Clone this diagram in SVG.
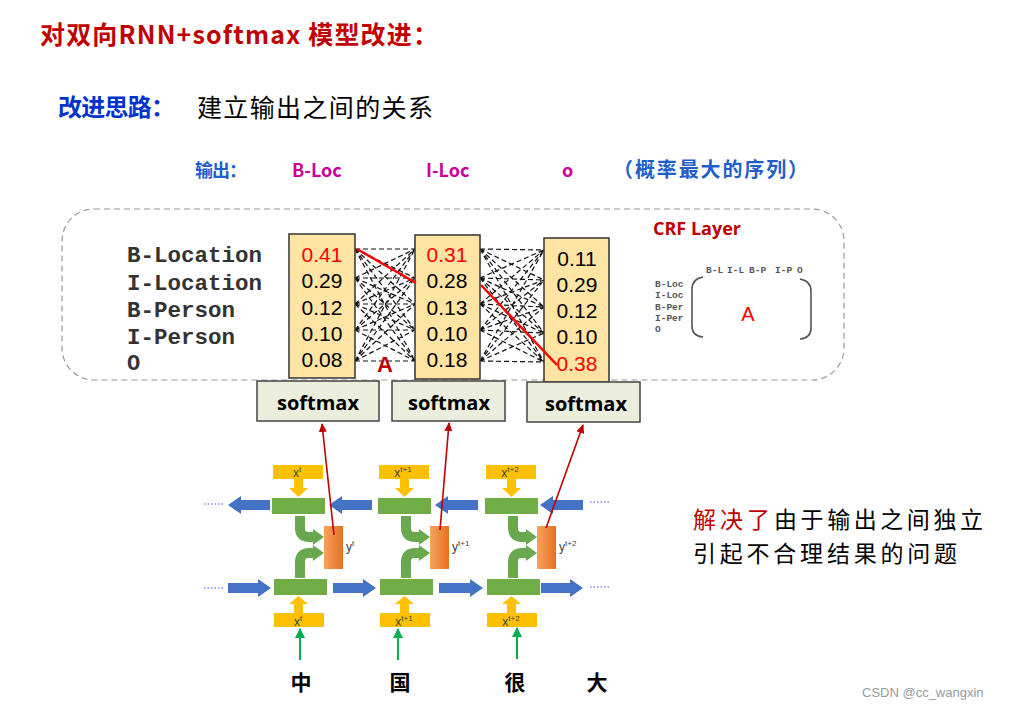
<svg xmlns="http://www.w3.org/2000/svg" width="1019" height="711" viewBox="0 0 1019 711">
<defs>
<style>
.cjk{font-family:"Noto Sans CJK SC","Noto Sans",sans-serif}
.mono{font-family:"Liberation Mono","DejaVu Sans Mono",monospace;font-weight:bold;fill:#333}
.num{font-family:"Liberation Sans",Arial,sans-serif;font-size:21px;fill:#000;text-anchor:middle}
.col{fill:#FFE4A3;stroke:#333;stroke-width:1.5}
.sm{fill:#EBEEDD;stroke:#444;stroke-width:1.5}
.smt{font-family:"Open Sans","Liberation Sans",sans-serif;font-weight:bold;font-size:20px;fill:#000;text-anchor:middle}
.xb{fill:#FFC000}
.gb{fill:#70AD47}
.xl{font-family:"Liberation Sans",Arial,sans-serif;font-size:12px;fill:#404040;text-anchor:middle}
.yl{font-family:"Liberation Sans",Arial,sans-serif;font-size:12px;fill:#404040}
.blue{fill:#4472C4}
.dash{fill:none;stroke:#111;stroke-width:1.2;stroke-dasharray:5 3}
.red{stroke:#FF0000;stroke-width:2.5;fill:none}
.rarr{stroke:#C00000;stroke-width:1.6;fill:none;marker-end:url(#rh)}
.garr{stroke:#00B050;stroke-width:2;fill:none;marker-end:url(#gh)}
.curve{stroke:#6AA84F;stroke-width:10;fill:none}
.dots{stroke:#4A4AFF;stroke-width:1.2;stroke-dasharray:1.5 2}
</style>
<linearGradient id="og" x1="0" y1="0" x2="1" y2="0">
<stop offset="0" stop-color="#F4A460"/><stop offset="1" stop-color="#E8701E"/>
</linearGradient>
<marker id="rh" markerWidth="10" markerHeight="10" refX="8" refY="5" orient="auto" markerUnits="userSpaceOnUse">
<path d="M0,1 L9,5 L0,9 Z" fill="#C00000"/>
</marker>
<marker id="gh" markerWidth="12" markerHeight="12" refX="9" refY="6" orient="auto" markerUnits="userSpaceOnUse">
<path d="M0,1 L10,6 L0,11 Z" fill="#00B050"/>
</marker>
</defs>
<rect width="1019" height="711" fill="#fff"/>

<g id="title">
<text class="cjk" x="40" y="44" font-size="25" font-weight="bold" fill="#C00000" textLength="398" lengthAdjust="spacing">对双向RNN+softmax 模型改进：</text>
<text class="cjk" x="58" y="116" font-size="24" font-weight="bold" fill="#0033CC" textLength="117" lengthAdjust="spacing">改进思路：</text>
<text class="cjk" x="197" y="117" font-size="25" fill="#000" textLength="236" lengthAdjust="spacing">建立输出之间的关系</text>
</g>

<g id="output-row">
<text class="cjk" x="195" y="177" font-size="18" font-weight="bold" fill="#1F5FCC" textLength="52" lengthAdjust="spacing">输出：</text>
<text class="cjk" x="292" y="177" font-size="18" font-weight="bold" fill="#CC0099">B-Loc</text>
<text class="cjk" x="426" y="177" font-size="18" font-weight="bold" fill="#CC0099">I-Loc</text>
<text class="cjk" x="562" y="177" font-size="18" font-weight="bold" fill="#CC0099">o</text>
<text class="cjk" x="613" y="177" font-size="20" font-weight="bold" fill="#1F5FCC" textLength="195" lengthAdjust="spacing">（概率最大的序列）</text>
</g>

<g id="crf-frame">
<rect x="62" y="209" width="782" height="171" rx="32" fill="none" stroke="#999" stroke-width="1.2" stroke-dasharray="6 4"/>
</g>

<g id="labels">
<text class="mono" x="127" y="262" font-size="22" textLength="135" lengthAdjust="spacingAndGlyphs">B-Location</text>
<text class="mono" x="127" y="290" font-size="22" textLength="135" lengthAdjust="spacingAndGlyphs">I-Location</text>
<text class="mono" x="127" y="317" font-size="22" textLength="108" lengthAdjust="spacingAndGlyphs">B-Person</text>
<text class="mono" x="127" y="344" font-size="22" textLength="108" lengthAdjust="spacingAndGlyphs">I-Person</text>
<text class="mono" x="127" y="370" font-size="22">O</text>
</g>

<g id="connectors">
<path class="dash" d="M355 249L415 249M355 249L415 278M355 249L415 304M355 249L415 330M355 249L415 361M355 278L415 249M355 278L415 278M355 278L415 304M355 278L415 330M355 278L415 361M355 304L415 249M355 304L415 278M355 304L415 304M355 304L415 330M355 304L415 361M355 330L415 249M355 330L415 278M355 330L415 304M355 330L415 330M355 330L415 361M355 361L415 249M355 361L415 278M355 361L415 304M355 361L415 330M355 361L415 361"/>
<path class="dash" d="M480 249L544 250M480 249L544 280M480 249L544 307M480 249L544 333M480 249L544 362M480 278L544 250M480 278L544 280M480 278L544 307M480 278L544 333M480 278L544 362M480 304L544 250M480 304L544 280M480 304L544 307M480 304L544 333M480 304L544 362M480 330L544 250M480 330L544 280M480 330L544 307M480 330L544 333M480 330L544 362M480 361L544 250M480 361L544 280M480 361L544 307M480 361L544 333M480 361L544 362"/>
</g>

<g id="col1">
<rect class="col" x="289" y="234" width="66" height="144"/>
<text class="num" x="322" y="262" style="fill:#FF0000">0.41</text>
<text class="num" x="322" y="288">0.29</text>
<text class="num" x="322" y="315">0.12</text>
<text class="num" x="322" y="341">0.10</text>
<text class="num" x="322" y="367">0.08</text>
</g>
<g id="col2">
<rect class="col" x="415" y="235" width="65" height="144"/>
<text class="num" x="447" y="262" style="fill:#FF0000">0.31</text>
<text class="num" x="447" y="288">0.28</text>
<text class="num" x="447" y="315">0.13</text>
<text class="num" x="447" y="341">0.10</text>
<text class="num" x="447" y="367">0.18</text>
</g>
<g id="col3">
<rect class="col" x="544" y="238" width="65" height="144"/>
<text class="num" x="577" y="266">0.11</text>
<text class="num" x="577" y="292">0.29</text>
<text class="num" x="577" y="318">0.12</text>
<text class="num" x="577" y="344">0.10</text>
<text class="num" x="577" y="371" style="fill:#FF0000">0.38</text>
</g>

<g id="best-path">
<path class="red" d="M357 249L416 283"/>
<path class="red" d="M481 285L557 365"/>
</g>

<g id="label-A">
<text x="377" y="372" font-family="Liberation Sans,Arial,sans-serif" font-size="22" font-weight="bold" fill="#C00000">A</text>
</g>

<g id="crf-layer">
<text x="653" y="235" font-family="Open Sans,Liberation Sans,sans-serif" font-size="18" font-weight="bold" fill="#C00000">CRF Layer</text>
<text class="mono" x="706" y="273" font-size="9.5" style="fill:#555">B-L</text>
<text class="mono" x="727" y="273" font-size="9.5" style="fill:#555">I-L</text>
<text class="mono" x="749" y="273" font-size="9.5" style="fill:#555">B-P</text>
<text class="mono" x="775" y="273" font-size="9.5" style="fill:#555">I-P</text>
<text class="mono" x="797" y="273" font-size="9.5" style="fill:#555">O</text>
<text class="mono" x="655" y="287" font-size="9.5" style="fill:#555">B-Loc</text>
<text class="mono" x="655" y="298" font-size="9.5" style="fill:#555">I-Loc</text>
<text class="mono" x="655" y="310" font-size="9.5" style="fill:#555">B-Per</text>
<text class="mono" x="655" y="321" font-size="9.5" style="fill:#555">I-Per</text>
<text class="mono" x="655" y="332" font-size="9.5" style="fill:#555">O</text>
<path d="M703 277 Q692 279 692 289 V326 Q692 336 703 337" fill="none" stroke="#555" stroke-width="1.6"/>
<path d="M800 279 Q811 281 811 291 V328 Q811 338 800 339" fill="none" stroke="#555" stroke-width="1.6"/>
<text x="748" y="321" font-family="Liberation Sans,Arial,sans-serif" font-size="20" fill="#FF0000" text-anchor="middle">A</text>
</g>

<g id="softmax1"><rect class="sm" x="257" y="381" width="122" height="40"/><text class="smt" x="318" y="410">softmax</text></g>
<g id="softmax2"><rect class="sm" x="392" y="381" width="113" height="40"/><text class="smt" x="449" y="410">softmax</text></g>
<g id="softmax3"><rect class="sm" x="527" y="382" width="113" height="40"/><text class="smt" x="586" y="411">softmax</text></g>

<g id="rnn-t">
<rect class="xb" x="273" y="465" width="50" height="14"/>
<text class="xl" x="297" y="477">x<tspan font-size="8" dy="-5">t</tspan></text>
<polygon class="xb" points="294,479 303,479 303,488 308,488 298.5,497 289,488 294,488"/>
<rect class="gb" x="272" y="498" width="53" height="16"/>
<path class="curve" d="M300 516V528Q300 537 309 537H314"/>
<polygon fill="#6AA84F" points="313,529 324,537 313,545"/>
<path class="curve" d="M300 578V562Q300 553 309 553H314"/>
<polygon fill="#6AA84F" points="313,545 324,553 313,561"/>
<rect x="324" y="526" width="19" height="43" fill="url(#og)"/>
<text class="yl" x="346" y="551">y<tspan font-size="8" dy="-5">t</tspan></text>
<rect class="gb" x="274" y="579" width="53" height="16"/>
<polygon class="xb" points="294,613 303,613 303,604 308,604 298.5,596 289,604 294,604"/>
<rect class="xb" x="274" y="613" width="50" height="14"/>
<text class="xl" x="298" y="626">x<tspan font-size="8" dy="-5">t</tspan></text>
</g>

<g id="rnn-t1" transform="translate(106,0)">
<rect class="xb" x="273" y="465" width="50" height="14"/>
<text class="xl" x="297" y="477">x<tspan font-size="8" dy="-5">t+1</tspan></text>
<polygon class="xb" points="294,479 303,479 303,488 308,488 298.5,497 289,488 294,488"/>
<rect class="gb" x="272" y="498" width="53" height="16"/>
<path class="curve" d="M300 516V528Q300 537 309 537H314"/>
<polygon fill="#6AA84F" points="313,529 324,537 313,545"/>
<path class="curve" d="M300 578V562Q300 553 309 553H314"/>
<polygon fill="#6AA84F" points="313,545 324,553 313,561"/>
<rect x="324" y="526" width="19" height="43" fill="url(#og)"/>
<text class="yl" x="346" y="551">y<tspan font-size="8" dy="-5">t+1</tspan></text>
<rect class="gb" x="274" y="579" width="53" height="16"/>
<polygon class="xb" points="294,613 303,613 303,604 308,604 298.5,596 289,604 294,604"/>
<rect class="xb" x="274" y="613" width="50" height="14"/>
<text class="xl" x="298" y="626">x<tspan font-size="8" dy="-5">t+1</tspan></text>
</g>

<g id="rnn-t2" transform="translate(213,0)">
<rect class="xb" x="273" y="465" width="50" height="14"/>
<text class="xl" x="297" y="477">x<tspan font-size="8" dy="-5">t+2</tspan></text>
<polygon class="xb" points="294,479 303,479 303,488 308,488 298.5,497 289,488 294,488"/>
<rect class="gb" x="272" y="498" width="53" height="16"/>
<path class="curve" d="M300 516V528Q300 537 309 537H314"/>
<polygon fill="#6AA84F" points="313,529 324,537 313,545"/>
<path class="curve" d="M300 578V562Q300 553 309 553H314"/>
<polygon fill="#6AA84F" points="313,545 324,553 313,561"/>
<rect x="324" y="526" width="19" height="43" fill="url(#og)"/>
<text class="yl" x="346" y="551">y<tspan font-size="8" dy="-5">t+2</tspan></text>
<rect class="gb" x="274" y="579" width="53" height="16"/>
<polygon class="xb" points="294,613 303,613 303,604 308,604 298.5,596 289,604 294,604"/>
<rect class="xb" x="274" y="613" width="50" height="14"/>
<text class="xl" x="298" y="626">x<tspan font-size="8" dy="-5">t+2</tspan></text>
</g>

<g id="rnn-connectors">
<polygon class="blue" points="228,505 241,496 241,500 270,500 270,510 241,510 241,514"/>
<polygon class="blue" points="329,505 342,496 342,500 372,500 372,510 342,510 342,514"/>
<polygon class="blue" points="435,505 448,496 448,500 478,500 478,510 448,510 448,514"/>
<polygon class="blue" points="540,505 553,496 553,500 583,500 583,510 553,510 553,514"/>
<polygon class="blue" points="271,588 258,579 258,583 228,583 228,593 258,593 258,597"/>
<polygon class="blue" points="376,588 363,579 363,583 333,583 333,593 363,593 363,597"/>
<polygon class="blue" points="483,588 470,579 470,583 439,583 439,593 470,593 470,597"/>
<polygon class="blue" points="583,588 570,579 570,583 541,583 541,593 570,593 570,597"/>
<line class="dots" x1="204" y1="504" x2="223" y2="504"/>
<line class="dots" x1="204" y1="588" x2="223" y2="588"/>
<line class="dots" x1="590" y1="502" x2="611" y2="502"/>
<line class="dots" x1="590" y1="587" x2="611" y2="587"/>
<path class="rarr" d="M334 535L322 424"/>
<path class="rarr" d="M440 530L449 423"/>
<path class="rarr" d="M546 528L583 425"/>
<path class="garr" d="M300 660V629"/>
<path class="garr" d="M398 660V629"/>
<path class="garr" d="M517 659V628"/>
</g>

<g id="words">
<text class="cjk" x="301" y="690" font-size="21" font-weight="bold" text-anchor="middle" fill="#000">中</text>
<text class="cjk" x="400" y="690" font-size="21" font-weight="bold" text-anchor="middle" fill="#000">国</text>
<text class="cjk" x="515" y="690" font-size="21" font-weight="bold" text-anchor="middle" fill="#000">很</text>
<text class="cjk" x="597" y="690" font-size="21" font-weight="bold" text-anchor="middle" fill="#000">大</text>
</g>

<g id="conclusion">
<text class="cjk" x="693" y="528" font-size="23" fill="#C00000" textLength="77" lengthAdjust="spacing">解决了</text>
<text class="cjk" x="774" y="528" font-size="23" fill="#000" textLength="209" lengthAdjust="spacing">由于输出之间独立</text>
<text class="cjk" x="693" y="562" font-size="23" fill="#000" textLength="264" lengthAdjust="spacing">引起不合理结果的问题</text>
</g>

<text x="862" y="697" font-family="Liberation Sans,Arial,sans-serif" font-size="13" fill="#999">CSDN @cc_wangxin</text>
</svg>
